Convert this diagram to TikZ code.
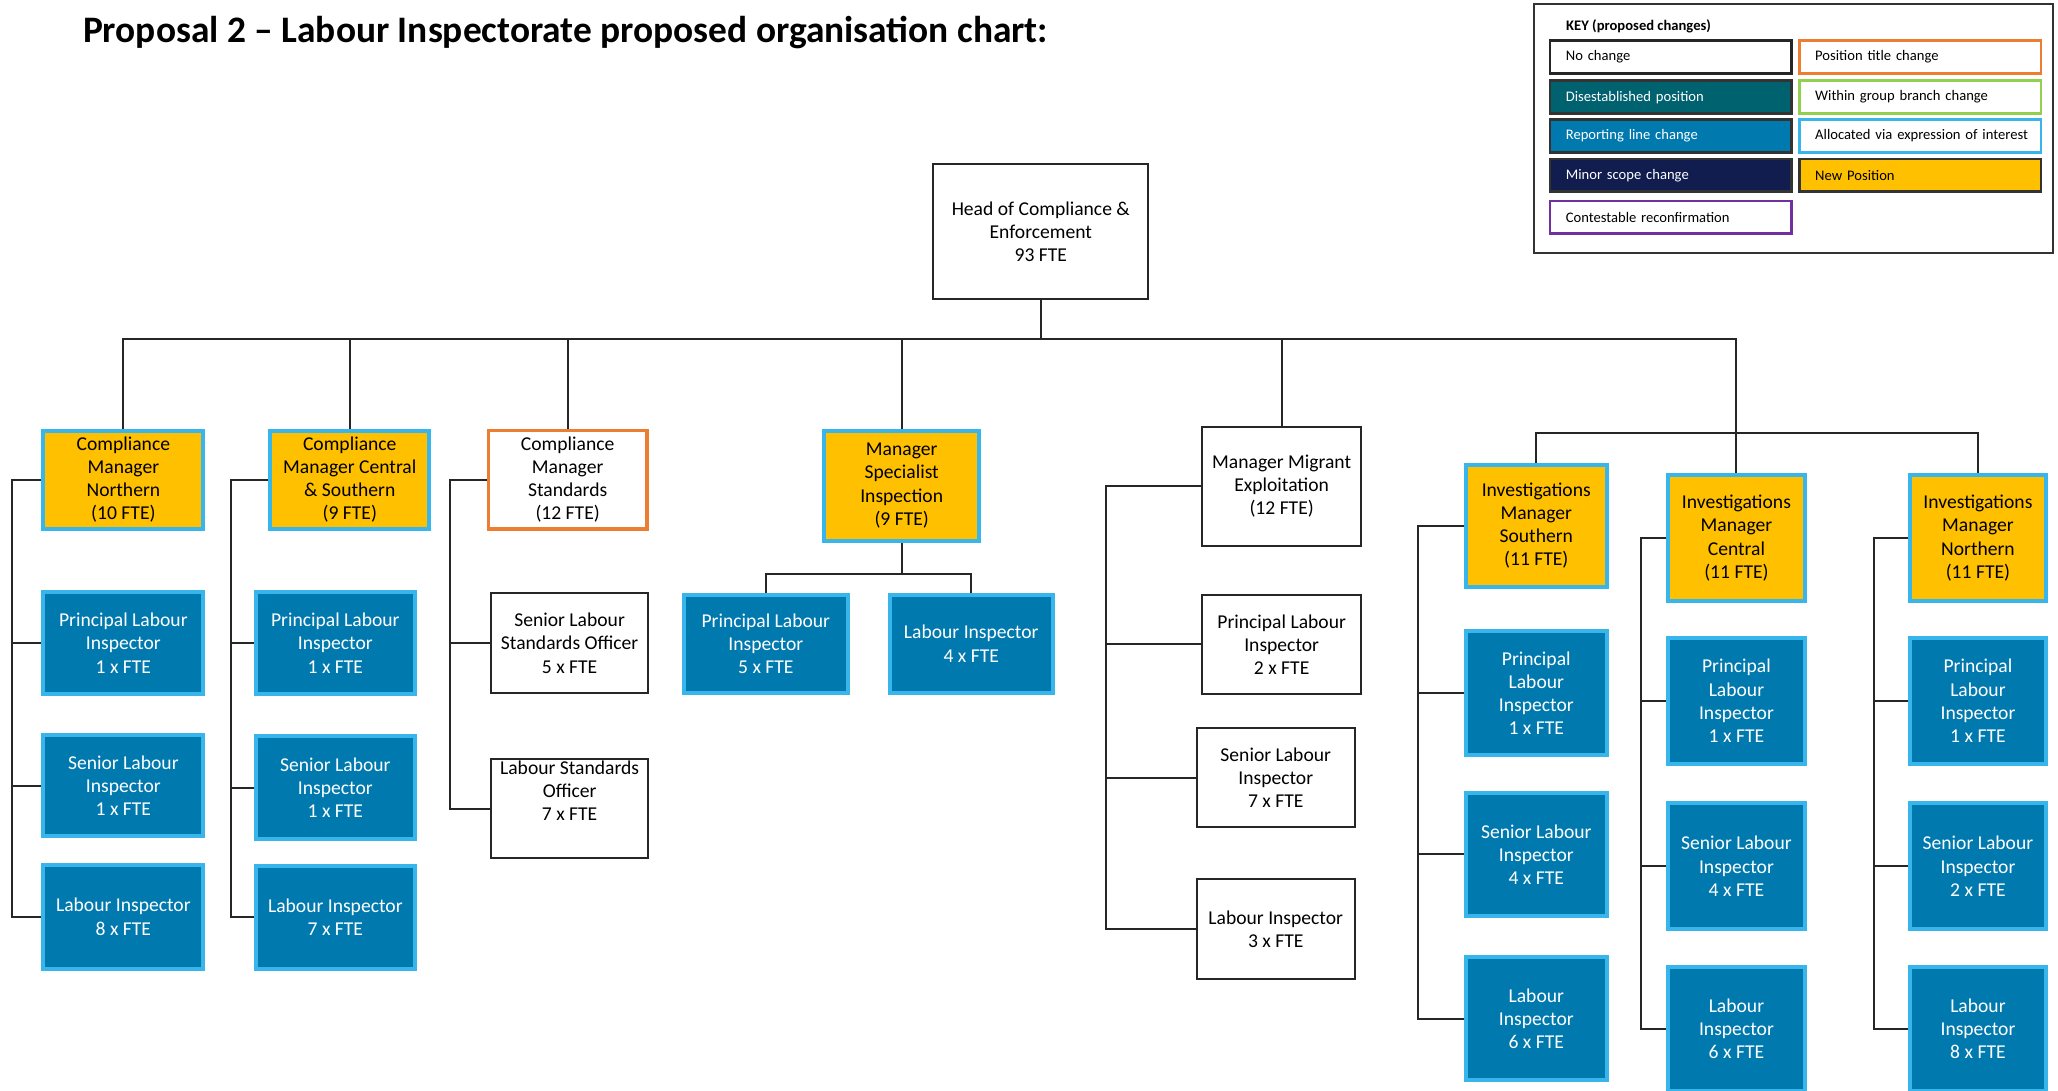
\documentclass[tikz,border=0pt]{standalone}
\usepackage{fontspec}
\setmainfont{Carlito}
\definecolor{gold}{RGB}{255,192,0}
\definecolor{rlblue}{RGB}{0,121,175}
\definecolor{eoiblue}{RGB}{56,182,236}
\definecolor{distteal}{RGB}{0,97,111}
\definecolor{scopenavy}{RGB}{17,29,78}
\definecolor{titleorange}{RGB}{237,125,49}
\definecolor{branchgreen}{RGB}{146,208,80}
\definecolor{contpurple}{RGB}{112,48,160}
\begin{document}
\begin{tikzpicture}[x=0.65625pt, y=-0.65625pt,
  sz/.style 2 args={minimum width={#1*0.65625pt}, minimum height={#2*0.65625pt}},
  posbox/.style={rectangle, inner sep=0pt, align=center, font=\fontsize{9.8}{11.6}\selectfont},
  nochange/.style={posbox, draw=black!85, line width=1pt, fill=white},
  newpos/.style={posbox, draw=eoiblue, line width=2pt, fill=gold, text=black},
  rlc/.style={posbox, draw=eoiblue, line width=2pt, fill=rlblue, text=white},
  ptc/.style={posbox, draw=titleorange, line width=1.6pt, fill=white},
  link/.style={draw=black!85, line width=1pt},
  keyitem/.style={rectangle, inner xsep=7.875pt, inner ysep=0pt, text width=105pt,
    align=left, minimum height=16.4pt, font=\fontsize{7.3}{8.5}\selectfont, line width=1.3pt},
]
\useasboundingbox (0,0) rectangle (1568,831);

% heading
\node[anchor=west, inner sep=0pt, font=\bfseries\fontsize{18.7}{22}\selectfont] (title) at (63,25)
  {Proposal 2 – Labour Inspectorate proposed organisation chart:};

% legend
\node[rectangle, draw=black!80, line width=1pt, sz={395}{190}] (key) at (1366.5,98) {};
\node[anchor=west, inner sep=0pt, font=\bfseries\fontsize{7.3}{8.5}\selectfont] (keyhead) at (1193,20) {KEY (proposed changes)};
\node[keyitem, draw=black!85] (k1) at (1273,43.5) {No change};
\node[keyitem, draw=black!80, fill=distteal, text=white] (k2) at (1273,74) {Disestablished position};
\node[keyitem, draw=black!80, fill=rlblue, text=white] (k3) at (1273,103.5) {Reporting line change};
\node[keyitem, draw=black!80, fill=scopenavy, text=white] (k4) at (1273,133.5) {Minor scope change};
\node[keyitem, draw=contpurple] (k5) at (1273,165.5) {Contestable reconfirmation};
\node[keyitem, draw=titleorange] (k6) at (1463,43.5) {Position title change};
\node[keyitem, draw=branchgreen] (k7) at (1463,74) {Within group branch change};
\node[keyitem, draw=eoiblue] (k8) at (1463,103.5) {\mbox{Allocated via expression of interest}};
\node[keyitem, draw=black!80, fill=gold] (k9) at (1463,133.5) {New Position};

% top of the structure
\node[nochange, sz={164}{103}] (head) at (793,176.5) {Head of Compliance \&\\Enforcement\\93 FTE};

% managers
\node[newpos, sz={122}{75}] (cmn) at (94,365.5) {Compliance\\Manager\\Northern\\(10 FTE)};
\node[newpos, sz={121}{75}] (cmc) at (266.5,365.5) {Compliance\\Manager Central\\\& Southern\\(9 FTE)};
\node[ptc, sz={121}{75}] (cms) at (432.5,365.5) {Compliance\\Manager\\Standards\\(12 FTE)};
\node[newpos, sz={118}{84}] (msi) at (687,370) {Manager\\Specialist\\Inspection\\(9 FTE)};
\node[nochange, sz={121}{91}] (mme) at (976.5,370.5) {Manager Migrant\\Exploitation\\(12 FTE)};
\node[newpos, sz={107}{93}] (ism) at (1170.5,400.5) {Investigations\\Manager\\Southern\\(11 FTE)};
\node[newpos, sz={104}{96}] (icm) at (1323,410) {Investigations\\Manager\\Central\\(11 FTE)};
\node[newpos, sz={104}{96}] (inm) at (1507,410) {Investigations\\Manager\\Northern\\(11 FTE)};

% Compliance Northern team
\node[rlc, sz={122}{78}] (pli1) at (94,490) {Principal Labour\\Inspector\\1 x FTE};
\node[rlc, sz={122}{77}] (sli1) at (94,598.5) {Senior Labour\\Inspector\\1 x FTE};
\node[rlc, sz={122}{79}] (li1) at (94,698.5) {Labour Inspector\\8 x FTE};

% Compliance Central & Southern team
\node[rlc, sz={121}{78}] (pli2) at (255.5,490) {Principal Labour\\Inspector\\1 x FTE};
\node[rlc, sz={121}{78}] (sli2) at (255.5,600) {Senior Labour\\Inspector\\1 x FTE};
\node[rlc, sz={121}{78}] (li2) at (255.5,699) {Labour Inspector\\7 x FTE};

% Compliance Standards team
\node[nochange, sz={120}{76}] (slso) at (434,490) {Senior Labour\\Standards Officer\\5 x FTE};
\node[nochange, sz={120}{76}] (lso) at (434,616) {Labour Standards\\Officer\\7 x FTE\\[6pt]};

% Specialist Inspection team
\node[rlc, sz={125}{75}] (spli) at (583.5,490.5) {Principal Labour\\Inspector\\5 x FTE};
\node[rlc, sz={124}{75}] (sli4) at (740,490.5) {Labour Inspector\\4 x FTE};

% Migrant Exploitation team
\node[nochange, sz={121}{76}] (mpli) at (976.5,491) {Principal Labour\\Inspector\\2 x FTE};
\node[nochange, sz={120}{75}] (msli) at (972,592.5) {Senior Labour\\Inspector\\7 x FTE};
\node[nochange, sz={120}{76}] (mli) at (972,708) {Labour Inspector\\3 x FTE};

% Investigations Southern team
\node[rlc, sz={107}{94}] (ispli) at (1170.5,528) {Principal\\Labour\\Inspector\\1 x FTE};
\node[rlc, sz={107}{94}] (issli) at (1170.5,651) {Senior Labour\\Inspector\\4 x FTE};
\node[rlc, sz={107}{94}] (isli) at (1170.5,776) {Labour\\Inspector\\6 x FTE};

% Investigations Central team
\node[rlc, sz={104}{96}] (icpli) at (1323,534) {Principal\\Labour\\Inspector\\1 x FTE};
\node[rlc, sz={104}{96}] (icsli) at (1323,660) {Senior Labour\\Inspector\\4 x FTE};
\node[rlc, sz={104}{94}] (icli) at (1323,784) {Labour\\Inspector\\6 x FTE};

% Investigations Northern team
\node[rlc, sz={104}{96}] (inpli) at (1507,534) {Principal\\Labour\\Inspector\\1 x FTE};
\node[rlc, sz={104}{96}] (insli) at (1507,660) {Senior Labour\\Inspector\\2 x FTE};
\node[rlc, sz={104}{94}] (inli) at (1507,784) {Labour\\Inspector\\8 x FTE};

% bus coordinates
\coordinate (bus) at (793,258);
\coordinate (ibus) at (1323,330);
\coordinate (msib) at (687,437);
\coordinate (x1) at (9,0);
\coordinate (x2) at (176,0);
\coordinate (x3) at (343,0);
\coordinate (x5) at (843,0);
\coordinate (x6) at (1080,0);
\coordinate (x7) at (1250,0);
\coordinate (x8) at (1428,0);

% top level lines
\draw[link] (head.south) -- (bus);
\draw[link] (bus) -| (cmn.north);
\draw[link] (bus) -| (cmc.north);
\draw[link] (bus) -| (cms.north);
\draw[link] (bus) -| (msi.north);
\draw[link] (bus) -| (mme.north);
\draw[link] (bus) -| (icm.north);
\draw[link] (ism.north) |- (ibus) -| (inm.north);

% Compliance Northern
\draw[link] (cmn.west) -| (x1 |- li1.west) -- (li1.west);
\draw[link] (x1 |- pli1.west) -- (pli1.west);
\draw[link] (x1 |- sli1.west) -- (sli1.west);

% Compliance Central & Southern
\draw[link] (cmc.west) -| (x2 |- li2.west) -- (li2.west);
\draw[link] (x2 |- pli2.west) -- (pli2.west);
\draw[link] (x2 |- sli2.west) -- (sli2.west);

% Compliance Standards
\draw[link] (cms.west) -| (x3 |- lso.west) -- (lso.west);
\draw[link] (x3 |- slso.west) -- (slso.west);

% Specialist Inspection
\draw[link] (msi.south) -- (msib);
\draw[link] (msib) -| (spli.north);
\draw[link] (msib) -| (sli4.north);

% Migrant Exploitation
\draw[link] (mme.west) -| (x5 |- mli.west) -- (mli.west);
\draw[link] (x5 |- mpli.west) -- (mpli.west);
\draw[link] (x5 |- msli.west) -- (msli.west);

% Investigations Southern
\draw[link] (ism.west) -| (x6 |- isli.west) -- (isli.west);
\draw[link] (x6 |- ispli.west) -- (ispli.west);
\draw[link] (x6 |- issli.west) -- (issli.west);

% Investigations Central
\draw[link] (icm.west) -| (x7 |- icli.west) -- (icli.west);
\draw[link] (x7 |- icpli.west) -- (icpli.west);
\draw[link] (x7 |- icsli.west) -- (icsli.west);

% Investigations Northern
\draw[link] (inm.west) -| (x8 |- inli.west) -- (inli.west);
\draw[link] (x8 |- inpli.west) -- (inpli.west);
\draw[link] (x8 |- insli.west) -- (insli.west);
\end{tikzpicture}
\end{document}
